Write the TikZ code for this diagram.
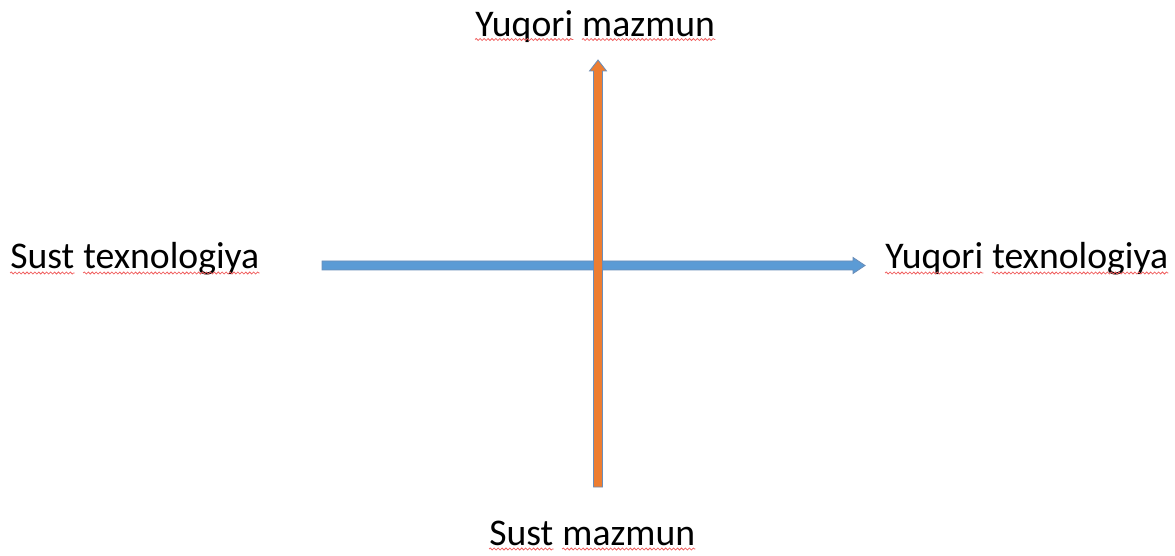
\documentclass[tikz,border=0pt]{standalone}
\usepackage{fontspec}
\setmainfont{Carlito}
\usetikzlibrary{calc,decorations.pathmorphing}

\definecolor{shaftblue}{HTML}{5B9BD5}
\definecolor{shaftorange}{HTML}{ED7D31}
\definecolor{edgeblue}{HTML}{6A8DB8}
\definecolor{waveRed}{HTML}{F06060}

\tikzset{
  axislabel/.style={font=\fontsize{26.8}{32}\selectfont, inner sep=0pt, anchor=base west},
  spellwave/.style={waveRed, line width=0.55pt, decorate,
    decoration={snake, amplitude=0.7pt, segment length=2.8pt}},
  harrow/.style={fill=shaftblue, draw=edgeblue, line width=0.6pt},
  varrow/.style={fill=shaftorange, draw=edgeblue, line width=0.6pt}
}
% red wavy spell-check line under a word node (#2 = drop below baseline)
\newcommand{\wavyunder}[2]{\draw[spellwave] ($(#1.base west)+(0,#2)$) -- ($(#1.base east)+(0,#2)$);}

\begin{document}
\begin{tikzpicture}[x=0.025cm, y=-0.025cm]
    \useasboundingbox (0,0) rectangle (1175,556);

    % Labels, one node per word
    \node[axislabel] (left1)   at (10,269) {Sust};
    \node[axislabel] (left2)   at ($(left1.base east)+(8.5,0)$) {texnologiya};
    \node[axislabel] (right1)  at (885,269) {Yuqori};
    \node[axislabel] (right2)  at ($(right1.base east)+(8.5,0)$) {texnologiya};
    \node[axislabel] (top1)    at (475,37) {Yuqori};
    \node[axislabel] (top2)    at ($(top1.base east)+(8.5,0)$) {mazmun};
    \node[axislabel] (bottom1) at (489,545) {Sust};
    \node[axislabel] (bottom2) at ($(bottom1.base east)+(8.5,0)$) {mazmun};

    % Spell-check marks
    \foreach \w in {left1,left2,right1,right2,bottom1,bottom2}
        {\wavyunder{\w}{4}}
    \foreach \w in {top1,top2}
        {\wavyunder{\w}{2.5}}

    % Arrow ends
    \coordinate (htail) at (322,265.5);
    \coordinate (hbase) at (853,265.5);
    \coordinate (htip)  at (865,265.5);
    \coordinate (vtail) at (598,487);
    \coordinate (vbase) at (598,71);
    \coordinate (vtip)  at (598,60);

    % Horizontal axis (technology)
    \filldraw[harrow] ($(htail)+(0,-4.5)$) -- ($(hbase)+(0,-4.5)$) -- ($(hbase)+(0,-8)$)
        -- (htip) -- ($(hbase)+(0,8)$) -- ($(hbase)+(0,4.5)$) -- ($(htail)+(0,4.5)$) -- cycle;

    % Vertical axis (content)
    \filldraw[varrow] ($(vtail)+(-4.5,0)$) -- ($(vbase)+(-4.5,0)$) -- ($(vbase)+(-8.5,0)$)
        -- (vtip) -- ($(vbase)+(8.5,0)$) -- ($(vbase)+(4.5,0)$) -- ($(vtail)+(4.5,0)$) -- cycle;
\end{tikzpicture}
\end{document}
